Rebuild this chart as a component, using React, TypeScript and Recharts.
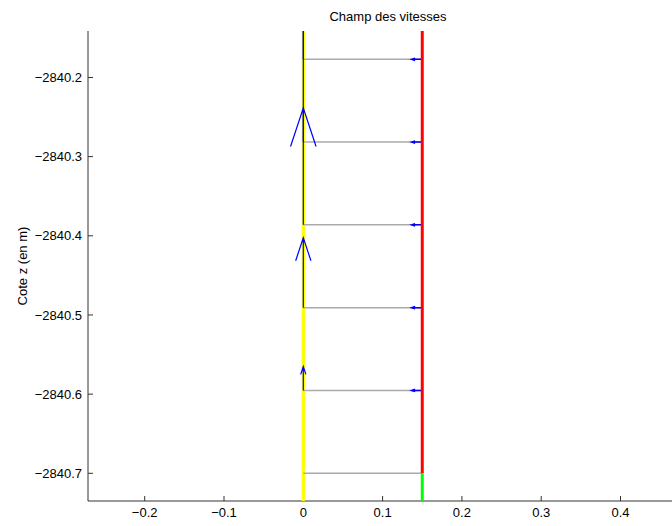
import React from 'react';
import { ScatterChart, Scatter, XAxis, YAxis } from 'recharts';

// layer interfaces (z, m) from bottom to top
const layerZ = [-2840.7, -2840.5954, -2840.4908, -2840.3862, -2840.2816, -2840.177];
// vertical speed drawn on the axis x = 0 (quiver length, data units)
const verticalSpeed = [0, 0.0303, 0.0884, 0.1477, 0.2096, 0.27];
// lateral speed drawn on the wall
const lateralSpeed = [0, -0.0134, -0.0134, -0.0134, -0.0134, -0.0134];

const axisX = 0;
const wallX = 0.15;
const columnBottom = -2840.735;
const columnTop = -2840.1413;

const xTicks = [-0.2, -0.1, 0, 0.1, 0.2, 0.3, 0.4];
const yTicks = [-2840.7, -2840.6, -2840.5, -2840.4, -2840.3, -2840.2];

type Pt = { x: number; y: number };

const FONT = '"Liberation Sans", Arial, Helvetica, sans-serif';
const AXIS_COLOR = '#333';

// quiver style arrow head (MATLAB like: 1/3 back, 1/3 * 1/3 wide)
function arrow(x: number, y: number, u: number, v: number): Pt[] {
  const tip = { x: x + u, y: y + v };
  const a = 0.33;
  const b = 0.33;
  return [
    { x, y },
    tip,
    { x: tip.x - a * (u + b * v), y: tip.y - a * (v - b * u) },
    tip,
    { x: tip.x - a * (u - b * v), y: tip.y - a * (v + b * u) },
  ];
}

const noDot = () => <g />;
const fmt = (v: number) => String(v).replace('-', '\u2212');

const App: React.FC = () => {
  const segments: { data: Pt[]; stroke: string; width: number }[] = [];

  segments.push({
    data: [{ x: axisX, y: columnBottom }, { x: axisX, y: columnTop }],
    stroke: '#ffff00',
    width: 3.3,
  });
  layerZ.forEach((z) => {
    segments.push({
      data: [{ x: axisX, y: z }, { x: wallX, y: z }],
      stroke: '#aaaaaa',
      width: 1.5,
    });
  });
  layerZ.forEach((z, i) => {
    if (verticalSpeed[i] !== 0) {
      segments.push({ data: arrow(axisX, z, 0, verticalSpeed[i]), stroke: '#0000ff', width: 1.2 });
    }
  });
  layerZ.forEach((z, i) => {
    if (lateralSpeed[i] !== 0) {
      segments.push({ data: arrow(wallX, z, lateralSpeed[i], 0), stroke: '#0000ff', width: 1.5 });
    }
  });
  segments.push({
    data: [{ x: wallX, y: layerZ[0] }, { x: wallX, y: columnTop }],
    stroke: '#ff0000',
    width: 3,
  });
  segments.push({
    data: [{ x: wallX, y: columnBottom }, { x: wallX, y: layerZ[0] }],
    stroke: '#00ff00',
    width: 3,
  });

  return (
    <div
      style={{
        position: 'absolute',
        left: 0,
        top: 0,
        width: 672,
        height: 526,
        overflow: 'hidden',
        background: '#fff',
        fontFamily: FONT,
      }}
    >
      <div
        style={{
          position: 'absolute',
          left: 0,
          top: 9,
          width: 776,
          textAlign: 'center',
          fontSize: 13,
          lineHeight: '16px',
          color: '#000',
        }}
      >
        Champ des vitesses
      </div>
      <ScatterChart width={688} height={526} margin={{ top: 31, right: 0, bottom: 0, left: 0 }}>
        <XAxis
          type="number"
          dataKey="x"
          domain={[-0.2715, 0.4851]}
          allowDataOverflow
          ticks={xTicks}
          tickFormatter={fmt}
          height={25}
          tickSize={-5}
          tickMargin={12}
          stroke={AXIS_COLOR}
          tick={{ fill: '#000', fontSize: 13, fontFamily: FONT }}
        />
        <YAxis
          type="number"
          dataKey="y"
          domain={[columnBottom, columnTop]}
          allowDataOverflow
          ticks={yTicks}
          tickFormatter={fmt}
          width={88}
          tickSize={-5}
          tickMargin={11}
          stroke={AXIS_COLOR}
          tick={{ fill: '#000', fontSize: 13, fontFamily: FONT }}
          label={{
            content: (props: any) => {
              const vb = props.viewBox || { y: 31, height: 470 };
              const cy = vb.y + vb.height / 2;
              return (
                <text
                  x={22}
                  y={cy}
                  transform={`rotate(-90, 22, ${cy})`}
                  textAnchor="middle"
                  dominantBaseline="central"
                  fontSize={13}
                  fontFamily={FONT}
                  fill="#000"
                >
                  Cote z (en m)
                </text>
              );
            },
          }}
        />
        {segments.map((s, i) => (
          <Scatter
            key={i}
            data={s.data}
            fill={s.stroke}
            line={{ stroke: s.stroke, strokeWidth: s.width }}
            shape={noDot}
            isAnimationActive={false}
          />
        ))}
      </ScatterChart>
    </div>
  );
};

export default App;
